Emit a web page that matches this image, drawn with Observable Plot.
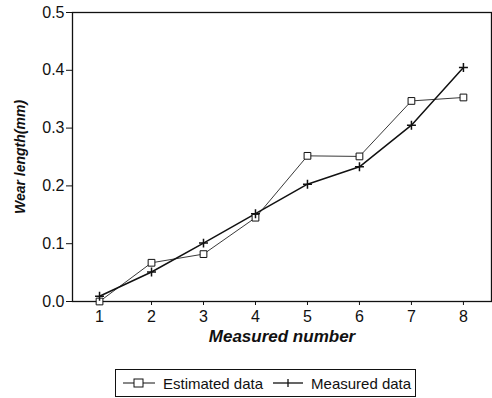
<!DOCTYPE html>
<html><head><meta charset="utf-8">
<script src="https://cdn.jsdelivr.net/npm/d3@7"></script>
<script src="https://cdn.jsdelivr.net/npm/@observablehq/plot@0.6"></script>
<style>
body{margin:0;background:#fff;font-family:"Liberation Sans",Arial,sans-serif;}
#wrap{position:relative;width:492px;height:398px;overflow:hidden;}
#legend{position:absolute;left:115px;top:369px;width:301px;height:28px;border:1px solid #111;box-sizing:border-box;display:flex;align-items:center;font-size:15px;color:#111;}
#legend svg{display:block}
</style></head>
<body><div id="wrap"><div id="chart"></div>
<div id="legend">
<svg width="36" height="14" style="margin-left:5px"><line x1="2" x2="34" y1="7" y2="7" stroke="#111" stroke-width="1"/><rect x="13" y="3" width="9" height="8" fill="#fff" stroke="#111"/></svg>
<span style="margin-left:6px">Estimated data</span>
<svg width="34" height="14" style="margin-left:8px"><line x1="2" x2="32" y1="7" y2="7" stroke="#111" stroke-width="1.3"/><line x1="17" x2="17" y1="3" y2="11" stroke="#111" stroke-width="1.3"/></svg>
<span style="margin-left:6px">Measured data</span>
</div></div>
<script>
const measuredNumber = [1, 2, 3, 4, 5, 6, 7, 8];
const estimated = [0.0, 0.067, 0.082, 0.145, 0.252, 0.251, 0.347, 0.353];
const measured = [0.009, 0.051, 0.101, 0.152, 0.203, 0.233, 0.305, 0.405];
const yTicks = [0.0, 0.1, 0.2, 0.3, 0.4, 0.5];
const xLabel = "Measured number";
const yLabel = "Wear length(mm)";

const est = measuredNumber.map((n, i) => ({x: n, y: estimated[i]}));
const mea = measuredNumber.map((n, i) => ({x: n, y: measured[i]}));

const chart = Plot.plot({
  width: 492, height: 360,
  marginLeft: 72, marginRight: 1, marginTop: 12, marginBottom: 59,
  style: {fontFamily: "'Liberation Sans', Arial, sans-serif", color: "#111", background: "#fff"},
  x: {domain: [0.48, 8.54]},
  y: {domain: [0, 0.5]},
  marks: [
    Plot.frame({stroke: "#111", strokeWidth: 1.3}),
    Plot.axisY({ticks: yTicks, tickFormat: d3.format(".1f"), tickSize: 6, tickPadding: 2, fontSize: 16, label: null}),
    Plot.axisX({ticks: measuredNumber, tickFormat: d3.format("d"), tickSize: 4, tickPadding: 5, fontSize: 16, label: null}),
    Plot.text([xLabel], {frameAnchor: "bottom", text: d => d, dy: 40, fontSize: 17, fontWeight: "bold", fontStyle: "italic"}),
    Plot.text([yLabel], {frameAnchor: "left", textAnchor: "middle", text: d => d, rotate: -90, dx: -52, fontSize: 14, fontWeight: "bold", fontStyle: "italic"}),
    Plot.line(est, {x: "x", y: "y", stroke: "#222", strokeWidth: 0.9}),
    Plot.line(mea, {x: "x", y: "y", stroke: "#111", strokeWidth: 1.5}),
    Plot.dot(est, {x: "x", y: "y", symbol: "square", r: 3.8, fill: "#fff", stroke: "#111", strokeWidth: 1}),
    Plot.dot(mea, {x: "x", y: "y", symbol: "plus", r: 3, stroke: "#111", strokeWidth: 1.5})
  ]
});
document.getElementById("chart").appendChild(chart);
</script></body></html>
